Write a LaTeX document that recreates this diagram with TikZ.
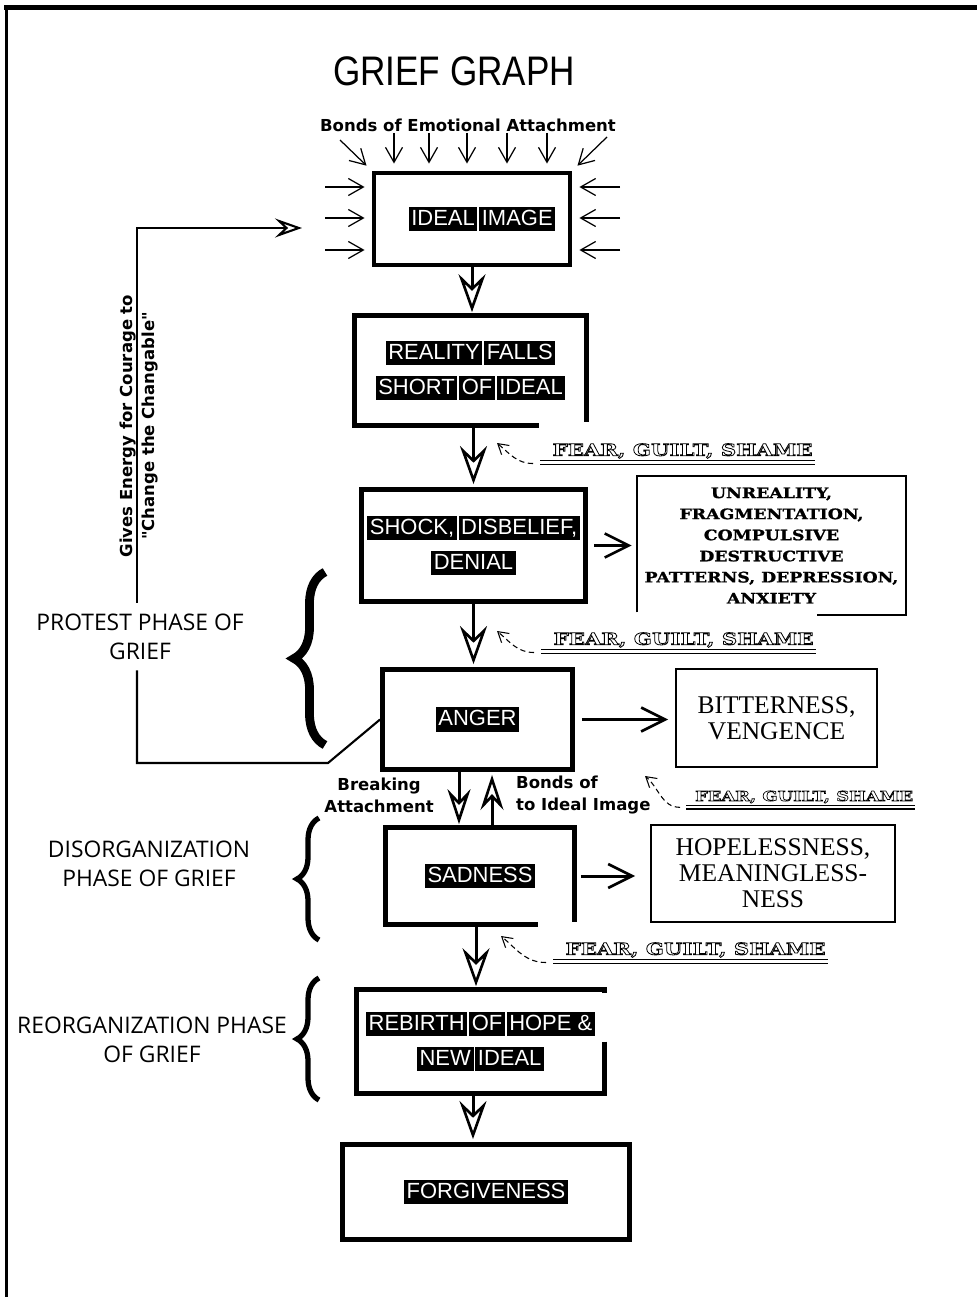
\documentclass[tikz,border=0pt]{standalone}
\usepackage{fontspec}
\setmainfont{Liberation Sans}
\newfontfamily\titlefont{Liberation Sans}[FakeStretch=0.85]
\newfontfamily\genevafont{DejaVu Sans}
\newfontfamily\phasefont{Open Sans}
\newfontfamily\timesfont{Liberation Serif}
\newfontfamily\slabfont{DejaVu Serif}[UprightFont={* Bold}, FakeStretch=1.2, FakeBold=1.2]
\newfontfamily\fearfont{DejaVu Serif}[UprightFont={* Bold}, FakeStretch=1.3, FakeBold=5]
\usetikzlibrary{arrows.meta, calc, decorations.pathreplacing}

\newcommand{\inv}[1]{{\setlength{\fboxsep}{1.5pt}\colorbox{black}{\rule[-0.15em]{0pt}{0.88em}\textcolor{white}{#1}}}}
\newcommand{\hollow}[1]{\textcolor{white}{\special{pdf:code 0 G}#1}}

\begin{document}
\begin{tikzpicture}[
    x=0.02cm, y=-0.02cm,
    every node/.style={align=center},
    bigbox/.style={draw, line width=2.8pt, line join=miter, font=\fontsize{12.5}{20}\selectfont},
    openbox/.style={font=\fontsize{12.5}{20}\selectfont},
    boxline/.style={line width=2.8pt, line join=miter},
    thinbox/.style={draw, line width=1.1pt, font=\timesfont\fontsize{14.5}{14.8}\selectfont},
    thinline/.style={line width=1.1pt, line join=miter},
    flow/.style={line width=1.7pt, shorten >=0.06cm, -{Stealth[open, length=0.76cm, width=0.54cm, inset=0.26cm, line width=1.5pt]}},
    side/.style={line width=1.7pt, -{Straight Barb[length=0.48cm, width=0.48cm, line width=1.5pt]}},
    bond/.style={line width=0.7pt, shorten >=0.14cm, -{Straight Barb[length=0.3cm, width=0.34cm, line width=0.7pt]}},
    loopline/.style={line width=1.2pt, line join=miter},
    feedback/.style={loopline, -{Stealth[open, length=0.54cm, width=0.38cm, inset=0.2cm, line width=1.2pt]}},
    fearcurve/.style={line width=0.6pt, densely dashed, -{Straight Barb[length=0.2cm, width=0.24cm, line width=0.6pt]}},
    fearlabel/.style={anchor=west, inner sep=1pt, font=\fearfont\fontsize{9.3}{10}\selectfont},
    small/.style={font=\genevafont\bfseries\fontsize{9.4}{12.5}\selectfont},
    phase/.style={font=\phasefont\fontsize{13}{16.5}\selectfont},
    bigbrace/.style={decorate, decoration={brace, amplitude=0.62cm}, line width=5pt},
    smallbrace/.style={decorate, decoration={brace, amplitude=0.44cm}, line width=3pt}
]
\useasboundingbox (0,0) rectangle (977,1297);

% Frame
\draw[line width=2.8pt] (4,7.5) -- (977,7.5);
\draw[line width=1.7pt] (6.5,6) -- (6.5,1297);

% Nodes
\node[font=\titlefont\fontsize{23.5}{24}\selectfont] (title) at (454,71) {GRIEF GRAPH};
\node[small] (bonds) at (468,125) {Bonds of Emotional Attachment};

\node[bigbox, minimum width=3.92cm, minimum height=1.84cm] (ideal) at (472,219) {\hspace*{0.4cm}\inv{IDEAL}\hspace{1pt}\inv{IMAGE}};
\node[openbox, minimum width=4.64cm, minimum height=2.2cm] (reality) at (470.5,370.5) {\inv{REALITY}\hspace{1pt}\inv{FALLS}\\\inv{SHORT}\hspace{1pt}\inv{OF}\hspace{1pt}\inv{IDEAL}};
\node[bigbox, minimum width=4.4cm, minimum height=2.24cm] (shock) at (473.5,545.5) {\inv{SHOCK,}\hspace{1pt}\inv{DISBELIEF,}\\\inv{DENIAL}};
\node[bigbox, minimum width=3.8cm, minimum height=2.0cm] (anger) at (477.5,719.5) {\inv{ANGER}};
\node[openbox, minimum width=3.78cm, minimum height=1.94cm] (sadness) at (480,876) {\inv{SADNESS}};
\node[openbox, minimum width=4.96cm, minimum height=2.08cm] (rebirth) at (480.5,1041.5) {\inv{REBIRTH}\hspace{1pt}\inv{OF}\hspace{1pt}\inv{HOPE \&}\\\inv{NEW}\hspace{1pt}\inv{IDEAL}};
\node[bigbox, minimum width=5.74cm, minimum height=1.9cm] (forgive) at (486,1192) {\inv{FORGIVENESS}};

\node[font=\slabfont\fontsize{8.2}{12}\selectfont, minimum width=5.38cm, minimum height=2.78cm] (unreal) at (771.5,545.5) {UNREALITY,\\FRAGMENTATION,\\COMPULSIVE\\DESTRUCTIVE\\PATTERNS, DEPRESSION,\\ANXIETY};
\node[thinbox, minimum width=4.02cm, minimum height=1.96cm] (bitter) at (776.5,718) {BITTERNESS,\\VENGENCE};
\node[thinbox, minimum width=4.88cm, minimum height=1.94cm] (hopeless) at (773,873.5) {HOPELESSNESS,\\MEANINGLESS-\\NESS};

\node[phase, minimum height=1.34cm] (protest) at (140,636.5) {PROTEST PHASE OF\\GRIEF};
\node[phase] (disorg) at (149,864) {DISORGANIZATION\\PHASE OF GRIEF};
\node[phase] (reorg) at (152,1040) {REORGANIZATION PHASE\\OF GRIEF};
\node[small, rotate=90] (energy) at (139,426) {Gives Energy for Courage to\\"Change the Changable"};

\node[small, anchor=east] (breaking) at (440,795) {Breaking\\Attachment};
\node[small, anchor=west, align=left] (bondsback) at (510,795) {Bonds of\\to Ideal Image};

\node[fearlabel] (fa) at (540,451) {\hspace*{6pt}\hollow{FEAR, GUILT, SHAME}};
\node[fearlabel] (fb) at (541,640) {\hspace*{6pt}\hollow{FEAR, GUILT, SHAME}};
\node[fearlabel, font=\fearfont\fontsize{7.8}{9}\selectfont] (fc) at (686,797) {\hspace*{4pt}\hollow{FEAR, GUILT, SHAME}};
\node[fearlabel] (fd) at (553,950) {\hspace*{6pt}\hollow{FEAR, GUILT, SHAME}};
\foreach \f in {fa,fb,fc,fd} {
    \draw[line width=0.8pt] (\f.south west) -- (\f.south east);
    \draw[line width=0.8pt] ([yshift=-2.2pt]\f.south west) -- ([yshift=-2.2pt]\f.south east);
}

\coordinate (ta) at (497,443);
\coordinate (tb) at (497,631);
\coordinate (tc) at (645,776);
\coordinate (td) at (501,936);
\coordinate (loopend) at (302,228);

% Box outlines with open corners
\draw[boxline] ($(reality.south east)+(-48,0)$) -- (reality.south west) -- (reality.north west) -- (reality.north east) -- ($(reality.south east)+(0,-4)$);
\draw[boxline] ($(sadness.south east)+(-37,0)$) -- (sadness.south west) -- (sadness.north west) -- (sadness.north east) -- ($(sadness.south east)+(0,-3)$);
\draw[boxline] (rebirth.east) -- (rebirth.south east) -- (rebirth.south west) -- (rebirth.north west) -- (rebirth.north east) -- ($(rebirth.north east)+(0,4)$);
\draw[thinline] ($(unreal.south west)+(0,-3)$) -- (unreal.north west) -- (unreal.north east) -- (unreal.south east) -- ($(unreal.south east)+(-89,0)$);

% Braces
\draw[bigbrace] (325,745) -- (325,572);
\draw[smallbrace] (319,940) -- (319,818);
\draw[smallbrace] (319,1100) -- (319,978);

% Edges
\foreach \x in {394,429,467,507,547}
    \draw[bond] (\x,133) -- (\x,0 |- ideal.north);
\foreach \y in {187,218,250} {
    \draw[bond] (325,\y) -- (ideal.west |- 0,\y);
    \draw[bond] (620,\y) -- (ideal.east |- 0,\y);
}
\draw[bond] (340,140) -- (ideal.north west);
\draw[bond] (607,137) -- (ideal.north east);

\draw[flow] (ideal.south) -- (ideal.south |- reality.north);
\draw[flow] (shock.north |- reality.south) -- (shock.north);
\draw[flow] (shock.south) -- (shock.south |- anger.north);
\draw[flow, -{Stealth[open, length=0.7cm, width=0.46cm, inset=0.24cm, line width=1.5pt]}] (459,0 |- anger.south) -- (459,0 |- sadness.north);
\draw[flow, -{Stealth[open, length=0.7cm, width=0.46cm, inset=0.24cm, line width=1.5pt]}] (492,0 |- sadness.north) -- (492,0 |- anger.south);
\draw[flow] (476,0 |- sadness.south) -- (476,0 |- rebirth.north);
\draw[flow] (473,0 |- rebirth.south) -- (473,0 |- forgive.north);

\draw[side, shorten <=0.12cm, shorten >=0.1cm] (shock.east) -- (unreal.west);
\draw[side, shorten <=0.14cm, shorten >=0.14cm] (anger.east) -- (anger.east -| bitter.west);
\draw[side, shorten <=0.12cm, shorten >=0.3cm] (sadness.east) -- (sadness.east -| hopeless.west);

\draw[loopline] (anger.west) -- (328,763) -- (137,763) -- (137,0 |- protest.south);
\draw[feedback] (137,0 |- protest.north) -- (137,228) -- (loopend);

\draw[fearcurve] ($(fa.south west)+(-7,3)$) to[out=180, in=-40] (ta);
\draw[fearcurve] ($(fb.south west)+(-7,3)$) to[out=180, in=-40] (tb);
\draw[fearcurve] ($(fc.south west)+(-6,2)$) to[out=180, in=-40] (tc);
\draw[fearcurve] ($(fd.south west)+(-7,3)$) to[out=180, in=-40] (td);

\end{tikzpicture}
\end{document}
